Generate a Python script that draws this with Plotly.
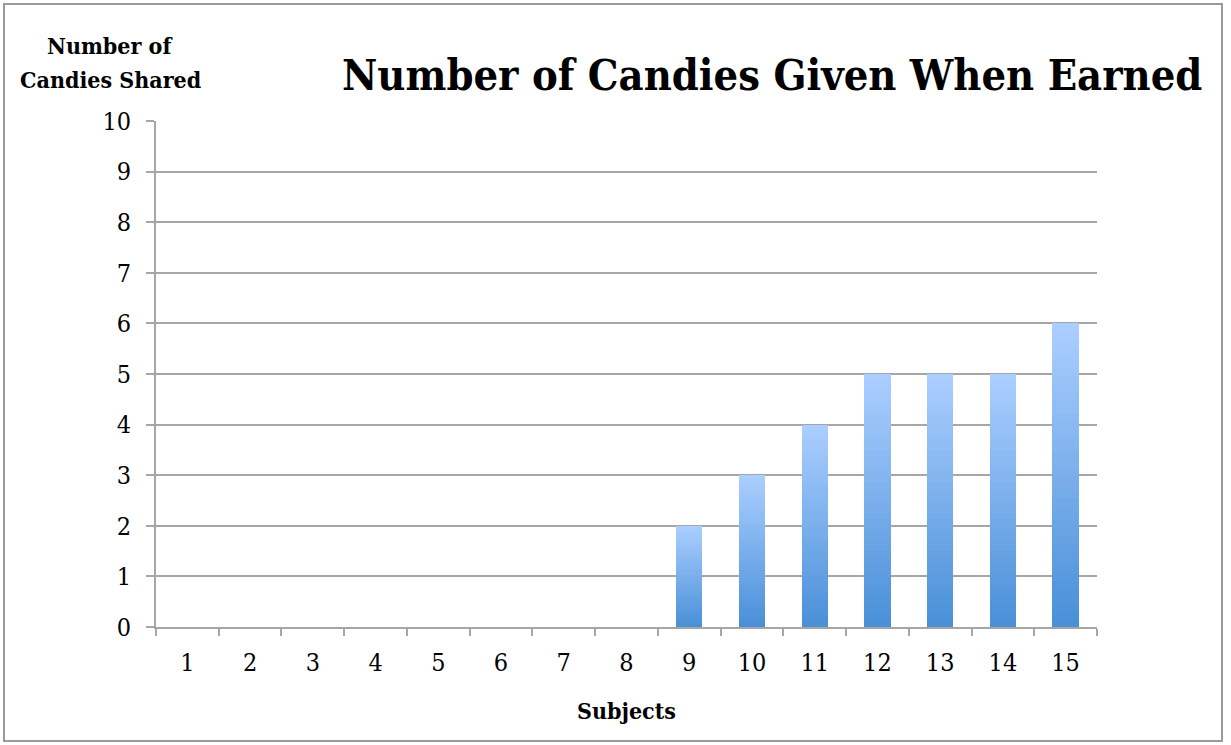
import plotly.graph_objects as go

subjects = [str(i) for i in range(1, 16)]
candies = [0, 0, 0, 0, 0, 0, 0, 0, 2, 3, 4, 5, 5, 5, 6]
y_ticks = list(range(0, 11))

title_text = "Number of Candies Given When Earned"
y_title_lines = ["Number of", "Candies Shared"]
x_title = "Subjects"

W, H = 1231, 745
L, R, T, B = 156, 134, 121, 118
pw, ph = W - L - R, H - T - B

FONT = "DejaVu Serif Condensed, DejaVu Serif, serif"

def px_x(px):
    return (px - L) / pw

def px_y(py):
    return (H - B - py) / ph

# gradient per bar via stacked slices (light at top, darker at bottom)
K = 40
top_c = (170, 206, 255)
bot_c = (74, 144, 216)
fig = go.Figure()
for k in range(K):
    t = k / (K - 1)
    c = tuple(round(bot_c[i] + (top_c[i] - bot_c[i]) * t) for i in range(3))
    fig.add_trace(go.Bar(
        x=subjects,
        y=[v / K for v in candies],
        width=0.42,
        marker=dict(color=f"rgb{c}", line=dict(width=0)),
        hoverinfo="skip",
        showlegend=False,
    ))

grid_c = "#a6a6a6"
fig.update_layout(
    width=W, height=H,
    margin=dict(l=L, r=R, t=T, b=B),
    barmode="stack",
    bargap=0,
    plot_bgcolor="white",
    paper_bgcolor="white",
    font=dict(family=FONT, color="black"),
    xaxis=dict(
        type="category",
        range=[-0.5, 14.5],
        showgrid=False,
        showline=True, linecolor=grid_c, linewidth=2,
        ticks="outside", tickson="boundaries", ticklen=7, tickwidth=2, tickcolor=grid_c,
        tickfont=dict(size=25, family=FONT),
        ticklabelstandoff=12,
        zeroline=False,
    ),
    yaxis=dict(
        range=[0, 10],
        tickvals=y_ticks,
        showgrid=True, gridcolor=grid_c, gridwidth=1.5,
        showline=True, linecolor=grid_c, linewidth=2,
        ticks="outside", ticklen=8, tickwidth=2, tickcolor=grid_c,
        tickfont=dict(size=25, family=FONT),
        ticklabelstandoff=10,
        zeroline=False,
    ),
    shapes=[dict(
        type="rect", xref="paper", yref="paper",
        x0=px_x(4), x1=px_x(1222), y0=px_y(741), y1=px_y(4),
        line=dict(color="#9a9a9a", width=2), fillcolor="rgba(0,0,0,0)", layer="below",
    )],
    annotations=[
        dict(text=f"<b>{title_text}</b>", xref="paper", yref="paper",
             x=px_x(772), y=px_y(75), xanchor="center", yanchor="middle",
             showarrow=False, font=dict(size=43, family=FONT)),
        dict(text=f"<b>{y_title_lines[0]}</b>", xref="paper", yref="paper",
             x=px_x(110), y=px_y(46), xanchor="center", yanchor="middle",
             showarrow=False, font=dict(size=23, family=FONT)),
        dict(text=f"<b>{y_title_lines[1]}</b>", xref="paper", yref="paper",
             x=px_x(110), y=px_y(79), xanchor="center", yanchor="middle",
             showarrow=False, font=dict(size=23, family=FONT)),
        dict(text=f"<b>{x_title}</b>", xref="paper", yref="paper",
             x=px_x(626), y=px_y(710), xanchor="center", yanchor="middle",
             showarrow=False, font=dict(size=23, family=FONT)),
    ],
)

fig.write_html("out.html")
